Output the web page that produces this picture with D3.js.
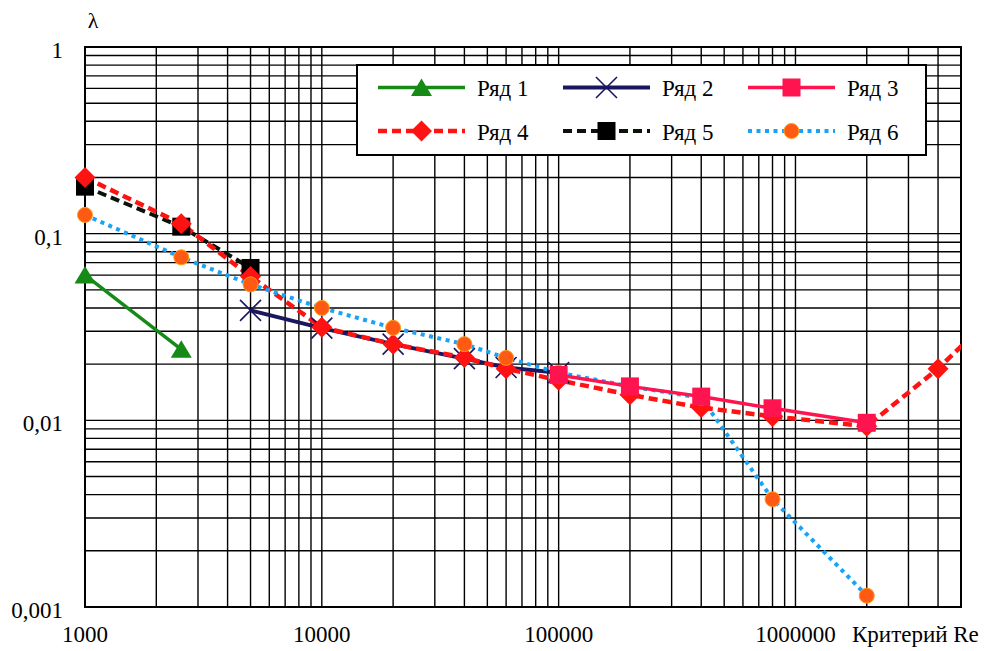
<!DOCTYPE html>
<meta charset="utf-8">
<script src="https://d3js.org/d3.v7.min.js"></script>
<style>
  body { margin: 0; background: white; }
  svg text { font-family: "Times New Roman", "Liberation Serif", "DejaVu Serif", serif; fill: #000; }
</style>
<div id="chart"></div>
<script>
// Re values (x) and friction factor lambda (y)
var re1 = [1000, 2550];
var lambda1 = [0.060, 0.024];
var re2 = [5000, 10000, 20000, 40000, 60000, 100000];
var lambda2 = [0.0388, 0.0312, 0.0256, 0.0214, 0.0192, 0.0180];
var re3 = [100000, 200000, 400000, 800000, 2000000];
var lambda3 = [0.0175, 0.0152, 0.0134, 0.0116, 0.0097];
var re4 = [1000, 2550, 5000, 10000, 20000, 40000, 60000, 100000, 200000, 400000, 800000, 2000000, 4000000, 10000000];
var lambda4 = [0.200, 0.113, 0.059, 0.0315, 0.0256, 0.0217, 0.0189, 0.0164, 0.0137, 0.0117, 0.0105, 0.0093, 0.0189, 0.058];
var re5 = [1000, 2550, 5000];
var lambda5 = [0.1786, 0.109, 0.0655];
var re6 = [1000, 2550, 5000, 10000, 20000, 40000, 60000, 100000, 200000, 400000, 800000, 2000000];
var lambda6 = [0.126, 0.0747, 0.0535, 0.0400, 0.0313, 0.0256, 0.0216, 0.0180, 0.0152, 0.0132, 0.00378, 0.00115];

var seriesNames = ["Ряд 1", "Ряд 2", "Ряд 3", "Ряд 4", "Ряд 5", "Ряд 6"];
var yTicks = [1, 0.1, 0.01, 0.001];
var yTickLabels = ["1", "0,1", "0,01", "0,001"];
var xTicks = [1000, 10000, 100000, 1000000];
var xTickLabels = ["1000", "10000", "100000", "1000000"];
var xTitle = "Критерий Re";
var yTitle = "λ";

var width = 989, height = 651;
var plotLeft = 85, plotRight = 961, plotTop = 47, plotBottom = 607;

var svg = d3.select("#chart").append("svg")
    .attr("width", width)
    .attr("height", height);

var x = d3.scaleLog().domain([1000, 5000000]).range([plotLeft, plotRight]);
var y = d3.scaleLog().domain([0.001, 1]).range([plotBottom, plotTop]);

// styles per series
var series = [
    {re: re1, lam: lambda1, color: "#168a16", dash: null, w: 3.5, marker: "triangle", fill: "#168a16"},
    {re: re2, lam: lambda2, color: "#1a1660", dash: null, w: 4, marker: "x", fill: "none"},
    {re: re3, lam: lambda3, color: "#ff1450", dash: null, w: 3.5, marker: "square", fill: "#ff1450"},
    {re: re4, lam: lambda4, color: "#ff1212", dash: "9,5", w: 4.5, marker: "diamond", fill: "#ff1212"},
    {re: re5, lam: lambda5, color: "#0a120a", dash: "9,5", w: 4, marker: "square", fill: "#000"},
    {re: re6, lam: lambda6, color: "#1aa3f5", dash: "4,4.5", w: 4, marker: "circle", fill: "#ff5a14"}
];
var drawOrder = [0, 1, 4, 3, 5, 2];

function markerPath(type) {
    if (type == "triangle") return "M0,-9L10.5,8.5L-10.5,8.5Z";
    if (type == "square") return "M-9,-9H9V9H-9Z";
    if (type == "diamond") return "M0,-10.5L10.5,0L0,10.5L-10.5,0Z";
    if (type == "x") return "M-10.5,-10.5L10.5,10.5M10.5,-10.5L-10.5,10.5";
    return d3.symbol().type(d3.symbolCircle).size(Math.PI * 7.5 * 7.5)();
}

// grid
var grid = svg.append("g");
grid.selectAll(".vline")
    .data(x.ticks())
    .enter().append("line")
    .attr("x1", function(d) { return x(d); })
    .attr("x2", function(d) { return x(d); })
    .attr("y1", plotTop).attr("y2", plotBottom)
    .style("stroke", "#000").style("stroke-width", 1.4);
grid.selectAll(".hline")
    .data(y.ticks())
    .enter().append("line")
    .attr("y1", function(d) { return y(d); })
    .attr("y2", function(d) { return y(d); })
    .attr("x1", plotLeft).attr("x2", plotRight)
    .style("stroke", "#000").style("stroke-width", 1.4);
svg.append("rect")
    .attr("x", plotLeft).attr("y", plotTop)
    .attr("width", plotRight - plotLeft).attr("height", plotBottom - plotTop)
    .style("fill", "none").style("stroke", "#000").style("stroke-width", 2);

// axis labels
svg.append("g").selectAll("text")
    .data(yTicks)
    .enter().append("text")
    .attr("x", 63)
    .attr("y", function(d) { return y(d) + 11; })
    .attr("text-anchor", "end")
    .style("font-size", "23px")
    .text(function(d, i) { return yTickLabels[i]; });

svg.append("g").selectAll("text")
    .data(xTicks)
    .enter().append("text")
    .attr("x", function(d) { return x(d); })
    .attr("y", 642)
    .attr("text-anchor", "middle")
    .style("font-size", "23px")
    .text(function(d, i) { return xTickLabels[i]; });

svg.append("text").attr("x", 852).attr("y", 642)
    .style("font-size", "23px").text(xTitle);
svg.append("text").attr("x", 93).attr("y", 28)
    .attr("text-anchor", "middle")
    .style("font-size", "22px").text(yTitle);

// clip lines to the plot box
svg.append("clipPath").attr("id", "plotclip")
    .append("rect").attr("x", plotLeft).attr("y", plotTop)
    .attr("width", plotRight - plotLeft).attr("height", plotBottom - plotTop);

var line = d3.line()
    .x(function(d) { return x(d[0]); })
    .y(function(d) { return y(d[1]); });

var plot = svg.append("g");
drawOrder.forEach(function(i) {
    var s = series[i];
    var pts = s.re.map(function(r, k) { return [r, s.lam[k]]; });
    plot.append("path")
        .datum(pts)
        .attr("clip-path", "url(#plotclip)")
        .attr("d", line)
        .style("fill", "none")
        .style("stroke", s.color)
        .style("stroke-width", s.w)
        .style("stroke-dasharray", s.dash);
});

drawOrder.forEach(function(i) {
    var s = series[i];
    var pts = s.re.map(function(r, k) { return [r, s.lam[k]]; })
        .filter(function(d) { return d[0] <= 5000000; });
    plot.append("g").selectAll("path")
        .data(pts)
        .enter().append("path")
        .attr("transform", function(d) { return "translate(" + x(d[0]) + "," + y(d[1]) + ")"; })
        .attr("d", markerPath(s.marker))
        .style("fill", s.fill)
        .style("stroke", s.marker == "x" ? s.color : (s.marker == "circle" ? "#ff9a1a" : "none"))
        .style("stroke-width", s.marker == "x" ? 1.6 : 1);
});

// legend
var legend = svg.append("g");
legend.append("rect")
    .attr("x", 357).attr("y", 65)
    .attr("width", 569).attr("height", 90)
    .style("fill", "#fff").style("stroke", "#000").style("stroke-width", 2);

var colX = [378, 563, 748];
var rowY = [87.5, 131];
series.forEach(function(s, i) {
    var cx = colX[i % 3], cy = rowY[Math.floor(i / 3)];
    var g = legend.append("g").attr("transform", "translate(" + cx + "," + cy + ")");
    g.append("line")
        .attr("x1", 0).attr("x2", 87)
        .attr("y1", 0).attr("y2", 0)
        .style("stroke", s.color)
        .style("stroke-width", s.w)
        .style("stroke-dasharray", s.dash);
    g.append("path")
        .attr("transform", "translate(43.5,0)")
        .attr("d", markerPath(s.marker))
        .style("fill", s.fill)
        .style("stroke", s.marker == "x" ? s.color : (s.marker == "circle" ? "#ff9a1a" : "none"))
        .style("stroke-width", s.marker == "x" ? 1.6 : 1);
    g.append("text")
        .attr("x", 99).attr("y", 8.5)
        .style("font-size", "23px")
        .text(seriesNames[i]);
});
</script>
